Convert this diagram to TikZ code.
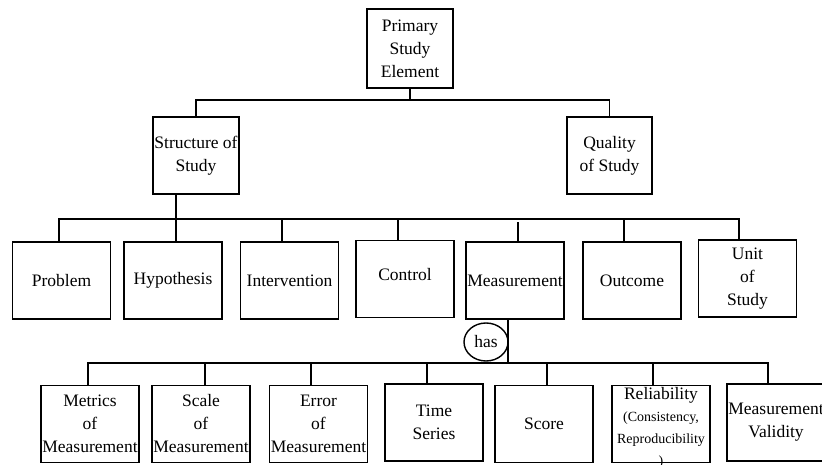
\documentclass[tikz,border=0pt]{standalone}
\usepackage{fontspec}
\setmainfont{Liberation Serif}
\usetikzlibrary{shapes.geometric}
\tikzset{
	box/.style={draw, line width=1.4pt, minimum width=98pt, minimum height=77pt, inner sep=0pt, align=center, font=\fontsize{17.5}{23}\selectfont},
	conn/.style={line width=1.4pt},
}
\begin{document}
\begin{tikzpicture}[x=1pt,y=-1pt]
	\useasboundingbox (0,0) rectangle (822,465);
	\node[box, minimum width=86pt, minimum height=79pt] (pse) at (410,48.5) {Primary\\Study\\Element};
	\node[box, minimum width=86pt] (sos) at (196,155.5) {Structure of\\Study};
	\node[box, minimum width=85pt] (qos) at (609.5,155.5) {Quality\\of Study};
	\node[box] (prob) at (61.5,280.5) {Problem};
	\node[box] (hyp) at (173,280.5) {Hypothesis};
	\node[box] (intv) at (289.5,280.5) {Intervention};
	\node[box, text depth=9pt] (ctrl) at (405,279) {Control};
	\node[box] (meas) at (515,280.5) {Measurement};
	\node[box] (outc) at (632,280.5) {Outcome};
	\node[box] (unit) at (747.5,278.5) {Unit\\of\\Study};
	\node[draw, ellipse, line width=1.4pt, minimum width=44pt, minimum height=38pt, inner sep=0pt, font=\fontsize{17.5}{23}\selectfont] (has) at (486,342) {has};
	\node[box] (metr) at (90,424) {Metrics\\of\\Measurement};
	\node[box] (scal) at (201,424) {Scale\\of\\Measurement};
	\node[box] (err) at (318.5,424) {Error\\of\\Measurement};
	\node[box] (tser) at (434,422.5) {Time\\Series};
	\node[box] (scor) at (544,424) {Score};
	\node[box] (rel) at (661,424) {};
	\node[align=center, inner sep=0pt, font=\fontsize{14}{22}\selectfont] (reltxt) at (661,428) {{\fontsize{17.5}{23}\selectfont Reliability}\\(Consistency,\\Reproducibility\\)};
	\node[box] (val) at (776,422.5) {Measurement\\Validity};
	\coordinate (bus0) at (410,100);
	\coordinate (bus1) at (176,219);
	\coordinate (bus2) at (508,363);
	\draw[conn] (pse) -- (bus0);
	\draw[conn] (sos.north) |- (bus0) -| (qos.north);
	\draw[conn] (sos.south -| bus1) -- (bus1);
	\draw[conn] ([xshift=-2.5pt]prob.north) |- (bus1) -| ([xshift=-8.5pt]unit.north);
	\draw[conn] ([xshift=3pt]hyp.north) -- ([xshift=3pt]hyp.north |- bus1);
	\draw[conn] ([xshift=-7.5pt]intv.north) -- ([xshift=-7.5pt]intv.north |- bus1);
	\draw[conn] ([xshift=-7pt]ctrl.north) -- ([xshift=-7pt]ctrl.north |- bus1);
	\draw[conn] ([xshift=3pt]meas.north) -- ([xshift=3pt,yshift=-3pt]meas.north |- bus1);
	\draw[conn] ([xshift=-8pt]outc.north) -- ([xshift=-8pt]outc.north |- bus1);
	\draw[conn] (meas.south -| bus2) -- (bus2);
	\draw[conn] ([xshift=-2pt]metr.north) |- (bus2) -| ([xshift=-8pt]val.north);
	\draw[conn] ([xshift=4pt]scal.north) -- ([xshift=4pt]scal.north |- bus2);
	\draw[conn] ([xshift=-7.5pt]err.north) -- ([xshift=-7.5pt]err.north |- bus2);
	\draw[conn] ([xshift=-7pt]tser.north) -- ([xshift=-7pt]tser.north |- bus2);
	\draw[conn] ([xshift=3pt]scor.north) -- ([xshift=3pt]scor.north |- bus2);
	\draw[conn] ([xshift=-8pt]rel.north) -- ([xshift=-8pt]rel.north |- bus2);
\end{tikzpicture}
\end{document}
